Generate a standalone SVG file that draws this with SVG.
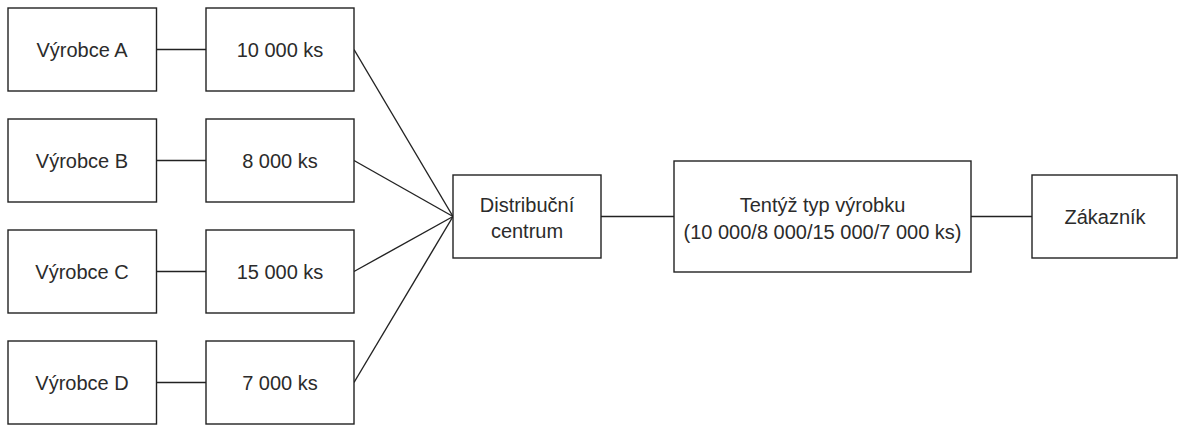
<svg xmlns="http://www.w3.org/2000/svg" width="1179" height="425" viewBox="0 0 1179 425">
  <style>
    .box { fill: #ffffff; stroke: #222222; stroke-width: 1.4; }
    .lbl { font-family: "Liberation Sans", Arial, sans-serif; font-size: 20px; fill: #2b2b2b; text-anchor: middle; }
    .edge { fill: none; stroke: #222222; stroke-width: 1.4; }
  </style>
  <rect width="1179" height="425" fill="#ffffff"/>

  <!-- connectors -->
  <g id="connectors">
    <line class="edge" x1="156.5" y1="49.5" x2="206" y2="49.5"/>
    <line class="edge" x1="156.5" y1="160.5" x2="206" y2="160.5"/>
    <line class="edge" x1="156.5" y1="271.5" x2="206" y2="271.5"/>
    <line class="edge" x1="156.5" y1="382.5" x2="206" y2="382.5"/>
    <line class="edge" x1="354" y1="49.5" x2="453" y2="216.5"/>
    <line class="edge" x1="354" y1="160.5" x2="453" y2="216.5"/>
    <line class="edge" x1="354" y1="271.5" x2="453" y2="216.5"/>
    <line class="edge" x1="354" y1="382.5" x2="453" y2="216.5"/>
    <line class="edge" x1="601" y1="216.5" x2="674" y2="216.5"/>
    <line class="edge" x1="971" y1="216.5" x2="1032" y2="216.5"/>
  </g>

  <!-- producers -->
  <g id="vyrobce-a">
    <rect class="box" x="8" y="8" width="148.5" height="83"/>
    <text class="lbl" x="82" y="57">Výrobce A</text>
  </g>
  <g id="vyrobce-b">
    <rect class="box" x="8" y="119" width="148.5" height="83"/>
    <text class="lbl" x="82" y="168">Výrobce B</text>
  </g>
  <g id="vyrobce-c">
    <rect class="box" x="8" y="230" width="148.5" height="83"/>
    <text class="lbl" x="82" y="279">Výrobce C</text>
  </g>
  <g id="vyrobce-d">
    <rect class="box" x="8" y="341" width="148.5" height="83"/>
    <text class="lbl" x="82" y="390">Výrobce D</text>
  </g>

  <!-- quantities -->
  <g id="mnozstvi-a">
    <rect class="box" x="206" y="8" width="148" height="83"/>
    <text class="lbl" x="280" y="57">10 000 ks</text>
  </g>
  <g id="mnozstvi-b">
    <rect class="box" x="206" y="119" width="148" height="83"/>
    <text class="lbl" x="280" y="168">8 000 ks</text>
  </g>
  <g id="mnozstvi-c">
    <rect class="box" x="206" y="230" width="148" height="83"/>
    <text class="lbl" x="280" y="279">15 000 ks</text>
  </g>
  <g id="mnozstvi-d">
    <rect class="box" x="206" y="341" width="148" height="83"/>
    <text class="lbl" x="280" y="390">7 000 ks</text>
  </g>

  <!-- distribution -->
  <g id="distribucni-centrum">
    <rect class="box" x="453" y="175" width="148" height="83"/>
    <text class="lbl" x="527" y="211.5">Distribuční</text>
    <text class="lbl" x="527" y="237.5">centrum</text>
  </g>

  <g id="tentyz-typ">
    <rect class="box" x="674" y="161" width="297" height="111"/>
    <text class="lbl" x="822.5" y="212">Tentýž typ výrobku</text>
    <text class="lbl" x="822.5" y="239">(10 000/8 000/15 000/7 000 ks)</text>
  </g>

  <g id="zakaznik">
    <rect class="box" x="1032" y="175" width="145" height="83"/>
    <text class="lbl" x="1105" y="224">Zákazník</text>
  </g>
</svg>
